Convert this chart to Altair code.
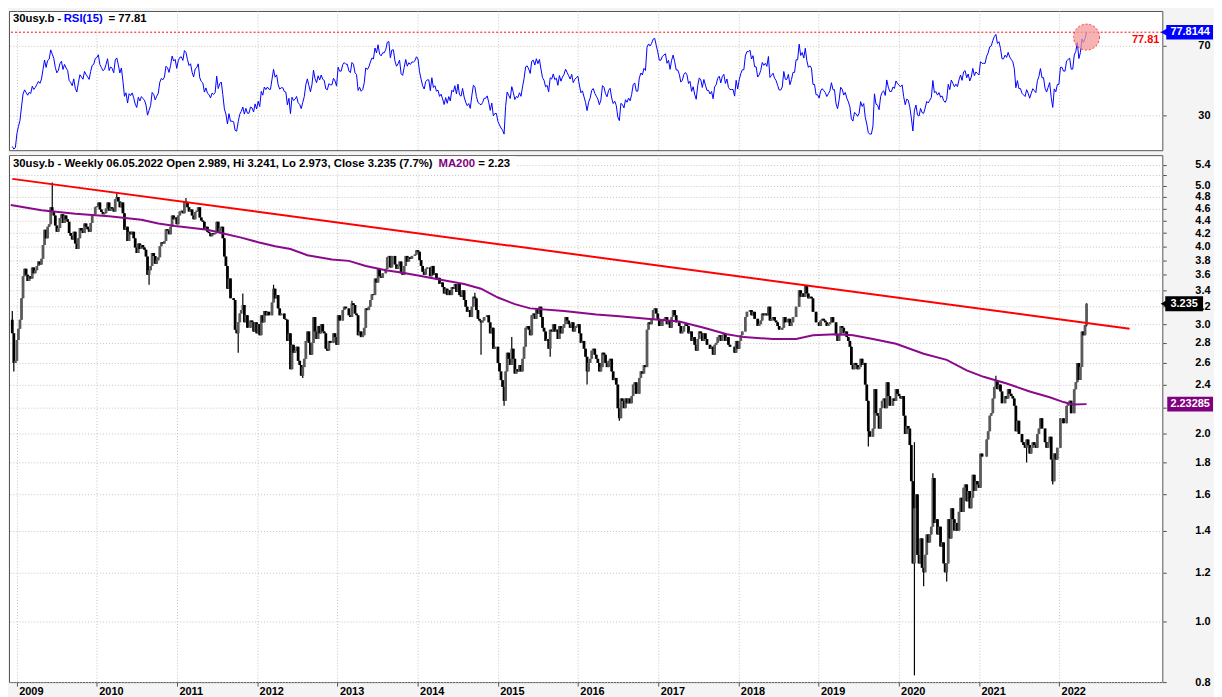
import altair as alt
import pandas as pd
import numpy as np

# ---------------- data (weekly closes, 30y US yield) ----------------
warmup_2008 = [4.65, 4.55, 4.56, 4.46, 4.42, 4.43, 4.33, 4.36, 4.35, 4.38,
               4.13, 4.26, 4.18, 4.07, 4.33, 4.30, 4.25, 3.82, 3.44, 3.05]
c2008 = [2.90, 2.60, 2.62]
c2009 = [2.83, 2.95, 3.05, 3.30, 3.58, 3.68, 3.60, 3.52, 3.58, 3.55, 3.70, 3.62, 3.66,
         3.72, 3.78, 3.74, 3.82, 4.02, 4.25, 4.12, 4.30, 4.34, 4.62, 4.55, 4.48, 4.32,
         4.22, 4.28, 4.44, 4.50, 4.36, 4.48, 4.42, 4.38, 4.20, 4.16, 4.10, 4.22, 4.04,
         3.96, 4.12, 4.28, 4.24, 4.20, 4.35, 4.30, 4.26, 4.22, 4.36, 4.48, 4.50, 4.62]
c2010 = [4.64, 4.70, 4.58, 4.54, 4.50, 4.52, 4.60, 4.70, 4.56, 4.62, 4.60, 4.55, 4.76,
         4.80, 4.72, 4.62, 4.70, 4.52, 4.25, 4.30, 4.08, 4.22, 4.18, 4.22, 4.12, 3.98,
         3.90, 4.04, 3.96, 4.02, 3.98, 3.95, 3.85, 3.60, 3.66, 3.72, 3.90, 3.86, 3.75,
         3.80, 3.84, 4.00, 4.06, 4.04, 4.08, 4.26, 4.24, 4.18, 4.30, 4.48, 4.42, 4.45, 4.34]
c2011 = [4.48, 4.55, 4.56, 4.52, 4.72, 4.70, 4.62, 4.55, 4.58, 4.48, 4.42, 4.54,
         4.56, 4.62, 4.45, 4.40, 4.38, 4.25, 4.30, 4.22, 4.20, 4.15, 4.20, 4.18, 4.20,
         4.38, 4.22, 4.28, 4.30, 4.12, 3.85, 3.72, 3.42, 3.55, 3.30, 3.30, 3.28, 2.94, 2.90,
         3.02, 3.12, 3.16, 3.22, 3.02, 3.10, 2.96, 2.96, 3.04, 3.02, 2.92, 3.02, 2.90]
c2012 = [3.00, 2.88, 3.10, 3.02, 3.15, 3.10, 3.14, 3.10, 3.10, 3.25, 3.42, 3.30, 3.34,
         3.18, 3.10, 3.12, 3.12, 3.06, 3.05, 2.82, 2.90, 2.54, 2.78, 2.70, 2.72, 2.76,
         2.62, 2.58, 2.48, 2.56, 2.64, 2.82, 2.92, 2.80, 2.68, 2.80, 3.08, 2.92, 2.84,
         2.98, 2.90, 3.00, 2.92, 2.90, 2.74, 2.72, 2.82, 2.80, 2.80, 2.90, 2.86, 2.78]
c2013 = [3.10, 3.04, 3.04, 3.16, 3.20, 3.18, 3.18, 3.10, 3.08, 3.24, 3.22, 3.12, 3.10,
         2.88, 2.92, 2.86, 2.88, 2.96, 3.18, 3.16, 3.20, 3.28, 3.35, 3.34, 3.55, 3.50,
         3.68, 3.58, 3.56, 3.62, 3.62, 3.68, 3.84, 3.86, 3.70, 3.86, 3.86, 3.74, 3.68,
         3.72, 3.78, 3.62, 3.60, 3.72, 3.86, 3.78, 3.84, 3.82, 3.86, 3.86, 3.88, 3.94]
c2014 = [3.92, 3.80, 3.72, 3.64, 3.60, 3.68, 3.70, 3.70, 3.58, 3.72, 3.60, 3.62, 3.55,
         3.56, 3.48, 3.50, 3.44, 3.36, 3.42, 3.34, 3.40, 3.34, 3.44, 3.42, 3.48, 3.38,
         3.48, 3.34, 3.32, 3.40, 3.28, 3.20, 3.14, 3.16, 3.08, 3.20, 3.32, 3.30, 3.16,
         3.06, 3.04, 3.02, 3.04, 3.08, 3.08, 3.10, 3.02, 2.90, 2.96, 2.74, 2.76, 2.76]
c2015 = [2.60, 2.52, 2.44, 2.38, 2.26, 2.52, 2.70, 2.64, 2.58, 2.74, 2.64, 2.50, 2.54,
         2.52, 2.58, 2.52, 2.64, 2.76, 2.96, 2.98, 2.94, 2.88, 3.10, 3.12, 3.06, 3.18,
         3.12, 3.20, 3.08, 2.96, 2.92, 2.82, 2.84, 2.74, 2.94, 2.92, 3.00, 2.92, 2.94,
         2.84, 2.98, 2.90, 2.96, 3.00, 3.08, 3.04, 3.00, 2.96, 3.02, 2.92, 2.96, 2.98]
c2016 = [3.00, 2.90, 2.80, 2.82, 2.74, 2.66, 2.52, 2.60, 2.64, 2.72, 2.74, 2.68, 2.64,
         2.60, 2.52, 2.56, 2.70, 2.68, 2.60, 2.56, 2.62, 2.64, 2.52, 2.44, 2.46, 2.40,
         2.20, 2.12, 2.28, 2.26, 2.20, 2.28, 2.24, 2.28, 2.24, 2.30, 2.40, 2.42, 2.32, 2.32,
         2.46, 2.52, 2.50, 2.58, 2.56, 2.94, 3.02, 3.00, 3.06, 3.16, 3.18, 3.12, 3.06]
c2017 = [2.98, 2.98, 3.04, 3.06, 3.08, 3.00, 3.04, 2.96, 3.08, 3.16, 3.10, 3.02, 3.02,
         2.98, 2.90, 2.92, 2.98, 3.00, 2.98, 2.90, 2.92, 2.82, 2.86, 2.78, 2.72, 2.84,
         2.92, 2.90, 2.82, 2.90, 2.84, 2.78, 2.78, 2.74, 2.76, 2.68, 2.78, 2.80, 2.86,
         2.88, 2.82, 2.88, 2.90, 2.82, 2.86, 2.78, 2.76, 2.76, 2.76, 2.70, 2.82, 2.74]
c2018 = [2.82, 2.88, 2.92, 2.92, 3.08, 3.14, 3.14, 3.16, 3.10, 3.14, 3.06, 3.06, 2.98,
         3.00, 3.04, 3.12, 3.10, 3.12, 3.10, 3.20, 3.04, 3.06, 3.08, 3.04, 3.02, 2.98,
         2.94, 2.94, 2.96, 3.08, 3.02, 3.02, 3.06, 2.98, 3.02, 3.08, 3.08, 3.20, 3.20,
         3.40, 3.32, 3.36, 3.32, 3.46, 3.36, 3.30, 3.32, 3.30, 3.14, 3.14, 3.02, 3.02]
c2019 = [2.98, 3.04, 3.06, 3.04, 3.02, 2.98, 3.00, 3.02, 3.08, 3.02, 3.02, 2.88, 2.82,
         2.88, 2.98, 2.96, 2.90, 2.92, 2.86, 2.82, 2.76, 2.58, 2.54, 2.60, 2.58, 2.54,
         2.56, 2.64, 2.58, 2.60, 2.40, 2.26, 2.02, 1.98, 1.98, 2.04, 2.36, 2.16, 2.14,
         2.04, 2.20, 2.26, 2.28, 2.20, 2.42, 2.30, 2.22, 2.22, 2.28, 2.26, 2.36, 2.32]
c2020 = [2.30, 2.28, 2.30, 2.14, 2.00, 2.06, 2.04, 1.92, 1.68, 1.24, 1.52, 1.60, 1.28,
         1.24, 1.36, 1.22, 1.20, 1.28, 1.38, 1.34, 1.38, 1.42, 1.70, 1.44, 1.46, 1.38,
         1.42, 1.32, 1.34, 1.24, 1.20, 1.24, 1.46, 1.36, 1.52, 1.46, 1.40, 1.44, 1.40,
         1.50, 1.58, 1.50, 1.64, 1.66, 1.56, 1.62, 1.52, 1.58, 1.72, 1.62, 1.68, 1.66]
c2021 = [1.64, 1.86, 1.84, 1.84, 1.84, 1.96, 2.02, 2.14, 2.16, 2.28, 2.38, 2.44, 2.36,
         2.40, 2.34, 2.24, 2.24, 2.30, 2.28, 2.36, 2.32, 2.30, 2.28, 2.22, 2.02, 2.10,
         2.00, 2.00, 1.94, 1.92, 1.90, 1.96, 1.92, 1.86, 1.90, 1.94, 1.92, 1.90, 2.00,
         2.04, 2.12, 2.04, 2.04, 1.94, 1.90, 1.94, 1.98, 1.82, 1.68, 1.86, 1.82, 1.90, 1.90]
c2022 = [2.12, 2.12, 2.08, 2.08, 2.22, 2.24, 2.26, 2.16, 2.16, 2.36, 2.42, 2.60,
         2.44, 2.56, 2.92, 2.88, 2.99, 3.235]

# wick extremes (date, high, low)
ext_dates = ["2008-12-12", "2008-12-19", "2009-06-12", "2010-04-02", "2010-08-27",
             "2011-02-11", "2011-10-07", "2011-10-28", "2012-03-16", "2012-07-27",
             "2013-03-08", "2014-09-19", "2014-10-17", "2015-01-30", "2015-03-06",
             "2015-08-28", "2016-02-12", "2016-07-08", "2019-08-16", "2020-03-13",
             "2020-04-24", "2020-06-05", "2020-08-07", "2021-03-19", "2021-08-06",
             "2021-12-03", "2022-05-06"]
ext_high = [3.15, None, 5.06, 4.86, None, 4.78, None, 3.36, 3.47, None,
            3.27, 3.37, None, None, 2.86, None, None, None, None, 1.94,
            None, 1.73, None, 2.48, None, None, 3.241]
ext_low = [None, 2.52, None, None, 3.47, None, 2.70, None, None, 2.46,
           None, None, 2.68, 2.22, None, 2.66, 2.40, 2.10, 1.91, 0.82,
           1.14, None, 1.16, None, 1.80, 1.66, 2.973]
last_open = 2.989

# MA200 line
ma_dates = ["2008-12-05", "2009-04-24", "2009-09-25", "2010-02-26", "2010-07-23", "2010-10-08",
            "2010-12-24", "2011-05-20", "2011-08-05", "2011-10-21", "2012-01-06", "2012-03-23",
            "2012-06-01", "2012-08-17", "2012-12-07", "2013-02-22", "2013-05-10", "2013-08-09",
            "2013-10-18", "2014-01-03", "2014-04-04", "2014-08-01", "2014-10-17", "2015-01-02",
            "2015-03-20", "2015-05-29", "2015-10-30", "2016-03-25", "2016-07-08", "2016-11-11",
            "2017-04-07", "2017-07-28", "2017-11-10", "2018-01-26", "2018-06-08", "2018-09-21",
            "2018-12-07", "2019-03-22", "2019-06-07", "2019-09-06", "2019-12-20", "2020-04-24",
            "2020-08-07", "2020-11-06", "2021-01-22", "2021-05-07", "2021-08-20", "2021-11-19",
            "2022-01-21", "2022-03-04", "2022-05-06"]
ma_values = [4.66, 4.57, 4.51, 4.47, 4.41, 4.35, 4.31, 4.25, 4.19, 4.13, 4.06, 4.00,
             3.96, 3.87, 3.81, 3.79, 3.72, 3.66, 3.63, 3.59, 3.54, 3.48, 3.42, 3.31,
             3.23, 3.18, 3.15, 3.11, 3.09, 3.06, 3.03, 2.96, 2.89, 2.86, 2.84, 2.84,
             2.88, 2.89, 2.88, 2.84, 2.79, 2.69, 2.63, 2.53, 2.47, 2.41, 2.34, 2.29,
             2.25, 2.23, 2.233]

trend_dates = ["2008-12-12", "2022-11-18"]
trend_values = [5.13, 2.95]

rsi_value = 77.81
rsi_box_label = "77.8144"
close_label = "3.235"
ma_label = "2.23285"
ma_last = 2.23285
last_close = 3.235

# ---------------- frames ----------------
closes = (warmup_2008 + c2008 + c2009 + c2010 + c2011 + c2012 + c2013 + c2014 + c2015
          + c2016 + c2017 + c2018 + c2019 + c2020 + c2021 + c2022)
dates = pd.date_range("2008-07-25", periods=len(closes), freq="W-FRI")
df = pd.DataFrame({"date": dates, "close": closes})
df["open"] = df["close"].shift(1)
df.loc[df.index[-1], "open"] = last_open
df["high"] = df[["open", "close"]].max(axis=1)
df["low"] = df[["open", "close"]].min(axis=1)
for d, h, l in zip(ext_dates, ext_high, ext_low):
    m = df["date"] == pd.Timestamp(d)
    if h is not None:
        df.loc[m, "high"] = np.maximum(df.loc[m, "high"], h)
    if l is not None:
        df.loc[m, "low"] = np.minimum(df.loc[m, "low"], l)
delta = df["close"].diff()
gain = delta.clip(lower=0)
loss = (-delta).clip(lower=0)
ag = gain.ewm(alpha=1 / 15, adjust=False).mean()
al = loss.ewm(alpha=1 / 15, adjust=False).mean()
df["rsi"] = 100 - 100 / (1 + ag / al)
df["up"] = df["close"] >= df["open"]
show = df[df["date"] >= pd.Timestamp("2008-12-12")].copy()
show["date"] = show["date"].dt.strftime("%Y-%m-%dT00:00:00")

ma_df = pd.DataFrame({"date": [d + "T00:00:00" for d in ma_dates], "ma": ma_values})
trend_df = pd.DataFrame({"date": [d + "T00:00:00" for d in trend_dates], "v": trend_values})
one = pd.DataFrame({"a": [0]})

FONT = "Liberation Sans"
W, H_RSI, H_MAIN = 1160, 140, 530
x_dom = [alt.DateTime(year=2008, month=11, date=27), alt.DateTime(year=2023, month=4, date=16)]
year_vals = [alt.DateTime(year=y, month=1, date=1) for y in range(2009, 2023)]
xscale = alt.Scale(domain=x_dom)
yscale = alt.Scale(type="log", domain=[0.8, 5.6], nice=False)
rscale = alt.Scale(domain=[10, 90], nice=False, zero=False)

x_axis_main = alt.Axis(values=year_vals, format="%Y", labelAlign="left", labelOffset=2,
                       labelPadding=-1, tickSize=4, grid=True, domain=False, title=None,
                       labelBaseline="top")
x_axis_rsi = alt.Axis(values=year_vals, labels=False, ticks=False, grid=True, domain=False, title=None)
y_ticks = [0.8, 1.0, 1.2, 1.4, 1.6, 1.8, 2.0, 2.2, 2.4, 2.6, 2.8, 3.0, 3.2, 3.4, 3.6, 3.8,
           4.0, 4.2, 4.4, 4.6, 4.8, 5.0, 5.2, 5.4]
y_axis_main = alt.Axis(orient="right", values=y_ticks, format=".1f", labelAlign="right",
                       labelPadding=44, tickSize=4, grid=True, domain=False, title=None,
                       labelExpr="abs(datum.value - 2.2) < 0.001 ? '' : datum.label")
y_axis_rsi = alt.Axis(orient="right", values=[30, 70], format="d", labelAlign="right",
                      labelPadding=44, tickSize=4, grid=True, domain=False, title=None)

def XM():
    return alt.X("date:T", scale=xscale, axis=x_axis_main)

def YM(f):
    return alt.Y(f, type="quantitative", scale=yscale, axis=y_axis_main)

def XR():
    return alt.X("date:T", scale=xscale, axis=x_axis_rsi)

def YR(f):
    return alt.Y(f, type="quantitative", scale=rscale, axis=y_axis_rsi)

def txt(s, x, y, color="black", align="left", size=11.4):
    return alt.Chart(one).mark_text(text=s, align=align, baseline="middle", font=FONT,
                                    fontSize=size, fontWeight="bold", color=color).encode(
        x=alt.value(x), y=alt.value(y))

# ---------------- main panel ----------------
base = alt.Chart(show)
wick = base.mark_rule(color="black", strokeWidth=1.2, clip=True).encode(
    x=XM(), y=YM("low"), y2="high:Q")
body = base.mark_rule(strokeWidth=2.8, clip=True).encode(
    x=XM(), y=YM("open"), y2="close:Q",
    color=alt.condition("datum.up", alt.value("#5a5a5a"), alt.value("black")))
ma_line = alt.Chart(ma_df).mark_line(color="#8b0a8b", strokeWidth=2, clip=True).encode(
    x=XM(), y=YM("ma"))
trend = alt.Chart(trend_df).mark_line(color="#ff0000", strokeWidth=2, clip=True).encode(
    x=XM(), y=YM("v"))
hdr_bg = alt.Chart(one).mark_rect(color="white").encode(
    x=alt.value(1), x2=alt.value(510), y=alt.value(1), y2=alt.value(16))
h1 = txt("30usy.b - Weekly 06.05.2022 Open 2.989, Hi 3.241, Lo 2.973, Close 3.235 (7.7%)", 4, 8.5)
h2 = txt("MA200", 432, 8.5, color="#800080")
h3 = txt("= 2.23", 472, 8.5)

k = np.exp(7.5 / 273.4)
close_box_df = pd.DataFrame({"v": [last_close], "t": [last_close * k], "b": [last_close / k]})
ma_box_df = pd.DataFrame({"v": [ma_last], "t": [ma_last * k], "b": [ma_last / k]})
close_box = alt.Chart(close_box_df).mark_rect(color="black").encode(
    x=alt.value(1163), x2=alt.value(1201), y=YM("t"), y2="b:Q")
close_arrow = alt.Chart(close_box_df).mark_point(shape="triangle-left", filled=True, size=70,
                                                 color="black", opacity=1).encode(
    x=alt.value(1162), y=YM("v"))
close_txt = alt.Chart(close_box_df).mark_text(text=close_label, color="white", font=FONT,
                                              fontSize=11, fontWeight="bold", align="center",
                                              baseline="middle").encode(
    x=alt.value(1182), y=YM("v"))
ma_box = alt.Chart(ma_box_df).mark_rect(color="#800080").encode(
    x=alt.value(1165), x2=alt.value(1211), y=YM("t"), y2="b:Q")
ma_txt = alt.Chart(ma_box_df).mark_text(text=ma_label, color="white", font=FONT, fontSize=11,
                                        fontWeight="bold", align="center", baseline="middle").encode(
    x=alt.value(1188), y=YM("v"))

main = alt.layer(wick, hdr_bg, body, ma_line, trend, h1, h2, h3,
                 close_box, close_arrow, close_txt, ma_box, ma_txt).properties(width=W, height=H_MAIN)

# ---------------- RSI panel ----------------
rsi_line = alt.Chart(show).mark_line(color="#0000ff", strokeWidth=1, clip=True).encode(
    x=XR(), y=YR("rsi"))
rv = pd.DataFrame({"v": [rsi_value], "t": [rsi_value + 4.2], "b": [rsi_value - 4.2],
                   "date": ["2022-05-06T00:00:00"], "c": [75.0]})
rsi_rule = alt.Chart(rv).mark_rule(color="#ff0000", strokeDash=[2, 2], strokeWidth=1).encode(
    y=YR("v"))
rsi_circle = alt.Chart(rv).mark_circle(size=680, fill="#f19a9a", fillOpacity=0.75, stroke="#ff3030",
                                       strokeWidth=1, strokeDash=[2, 2], opacity=1).encode(
    x=XR(), y=YR("c"))
rsi_red = alt.Chart(rv).mark_text(text="77.81", color="#ff0000", font=FONT, fontSize=11,
                                  fontWeight="bold", align="right", baseline="middle", dy=8).encode(
    x=alt.value(1157), y=YR("v"))
rsi_box = alt.Chart(rv).mark_rect(color="#0000ff").encode(
    x=alt.value(1164), x2=alt.value(1211), y=YR("t"), y2="b:Q")
rsi_arrow = alt.Chart(rv).mark_point(shape="triangle-left", filled=True, size=70, color="#0000ff",
                                     opacity=1).encode(
    x=alt.value(1162), y=YR("v"))
rsi_btxt = alt.Chart(rv).mark_text(text=rsi_box_label, color="white", font=FONT, fontSize=11,
                                   fontWeight="bold", align="center", baseline="middle").encode(
    x=alt.value(1188), y=YR("v"))
r_bg = alt.Chart(one).mark_rect(color="white").encode(
    x=alt.value(1), x2=alt.value(150), y=alt.value(1), y2=alt.value(16))
r1 = txt("30usy.b -", 4, 8.5)
r2 = txt("RSI(15)", 55, 8.5, color="#0000ff")
r3 = txt("= 77.81", 100, 8.5)

rsi = alt.layer(rsi_line, r_bg, rsi_rule, rsi_circle, rsi_red, r1, r2, r3,
                rsi_box, rsi_arrow, rsi_btxt).properties(width=W, height=H_RSI)

chart = alt.vconcat(rsi, main, spacing=3).properties(padding=0).configure(
    background="#f4f4f4", font=FONT
).configure_view(stroke="#555555", strokeWidth=1, fill="white").configure_axis(
    labelFont=FONT, labelFontSize=11, labelFontWeight="bold", labelColor="black",
    gridColor="#c4c4c4", gridDash=[1, 2], gridWidth=1, tickColor="#555555", tickWidth=1)

chart.save("out.html", embed_options={"renderer": "svg", "actions": False})
